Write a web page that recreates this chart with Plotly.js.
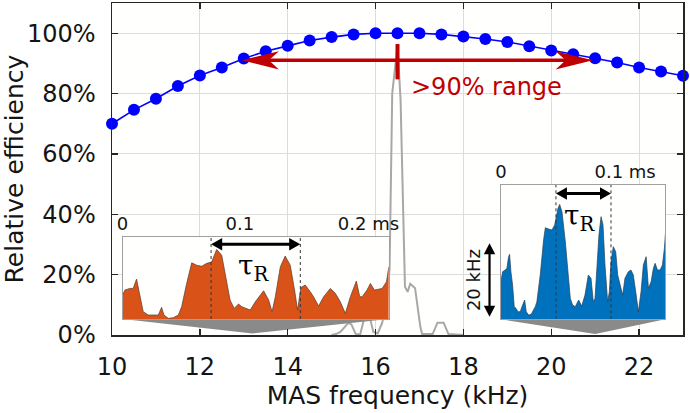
<!DOCTYPE html>
<html>
<head>
<meta charset="utf-8">
<script src="https://cdn.plot.ly/plotly-3.0.1.min.js"></script>
<style>
html,body{margin:0;padding:0;background:#ffffff;}
#chart{width:690px;height:413px;}
</style>
</head>
<body>
<div id="chart"></div>
<script>
// ---------------- DATA ----------------
// Main curve: relative efficiency vs MAS frequency
const masFreq = [10, 10.5, 11, 11.5, 12, 12.5, 13, 13.5, 14, 14.5, 15, 15.5, 16, 16.5, 17, 17.5, 18, 18.5, 19, 19.5, 20, 20.5, 21, 21.5, 22, 22.5, 23];
const efficiency = [70, 74.6, 78.3, 82.5, 86, 88.6, 91.6, 94.0, 95.8, 97.6, 98.7, 99.6, 100, 100, 100, 99.6, 98.9, 98.1, 97.1, 95.7, 94.3, 93.0, 91.7, 90.3, 88.6, 87.3, 85.9];
const xTickVals = [10, 12, 14, 16, 18, 20, 22];
const xTickText = ['10', '12', '14', '16', '18', '20', '22'];
const yTickVals = [0, 20, 40, 60, 80, 100];
const yTickText = ['0%', '20%', '40%', '60%', '80%', '100%'];

// Grey MAS-frequency distribution
const spectrumFreq = [15.0, 15.1, 15.2, 15.3, 15.38, 15.45, 15.55, 15.65, 15.75, 15.85, 15.95, 16.05, 16.15, 16.25, 16.32, 16.38, 16.5, 16.57, 16.67, 16.73, 16.79, 16.9, 17.02, 17.06, 17.3, 17.41, 17.55, 17.66, 18.0];
const spectrumLevel = [0, 0.3, 1.0, 2.5, 4.0, 3.5, 0.3, 0.2, 6, 7, 1, 0.5, 4, 10, 22, 80, 96, 78, 16, 14.3, 17, 15.5, 2.7, 0.3, 0.3, 4.1, 4.1, 0.3, 0];

// >90% range marker
const rangeFreq = [12.95, 20.95];
const rangeLevel = 91;
const optimumFreq = 16.5;
const optimumBar = [84.7, 96.4];
const rangeLabel = '>90% range';

// Inset 1: MAS frequency trace at 13.2 kHz (time in ms, deviation in kHz)
const slowMAS = 13.2;
const slowTime = [0, 0.00197, 0.00624, 0.00909, 0.01194, 0.01479, 0.01764, 0.0219, 0.0262, 0.0305, 0.0333, 0.0353, 0.0390, 0.0433, 0.0476, 0.0504, 0.0547, 0.0590, 0.0632, 0.0675, 0.0718, 0.0760, 0.0803, 0.0846, 0.0875, 0.0917, 0.0952, 0.0989, 0.1017, 0.1060, 0.1089, 0.1132, 0.1203, 0.1246, 0.1275, 0.1303, 0.1346, 0.1387, 0.1430, 0.1467, 0.1493, 0.1521, 0.1558, 0.1601, 0.1629, 0.1672, 0.1715, 0.1772, 0.1815, 0.1857, 0.1900, 0.1943, 0.1994, 0.2023, 0.2043, 0.2085, 0.2114, 0.2148, 0.2185, 0.2214, 0.2251, 0.2271];
const slowDev = [6.54, 7.9, 8.36, 8.36, 10.9, 6.08, 2.0, 1.09, 1.09, 1.09, 3.18, 1.09, 0.18, 0.36, 1.09, 3.36, 9.72, 15.35, 14.7, 14.4, 15.2, 15.6, 19.0, 17.4, 12.4, 5.2, 2.9, 4.1, 3.36, 2.9, 2.45, 4.7, 7.7, 5.2, 2.0, 6.08, 14.3, 17.2, 14.7, 7.9, 2.45, 8.6, 9.26, 7.45, 6.08, 3.54, 6.08, 8.36, 7.0, 4.7, 1.54, 6.08, 10.35, 6.08, 6.08, 7.9, 9.72, 7.9, 8.08, 8.36, 10.17, 14.3];
const slowTickVals = [0, 0.1, 0.2];
const slowTickText = ['0', '0.1', '\u00a0\u00a0\u00a0\u00a00.2 ms'];
const slowTau = [0.0755, 0.1516];

// Inset 2: MAS frequency trace at 21 kHz
const fastMAS = 21.0;
const fastTime = [0, 0.00141, 0.00372, 0.00517, 0.00661, 0.00748, 0.00863, 0.01007, 0.0115, 0.0130, 0.0147, 0.0167, 0.0182, 0.0205, 0.0219, 0.0239, 0.0262, 0.0283, 0.0297, 0.0311, 0.0340, 0.0369, 0.0384, 0.0413, 0.0441, 0.0465, 0.0476, 0.0493, 0.0508, 0.0528, 0.0557, 0.0580, 0.0600, 0.0620, 0.0643, 0.0672, 0.0699, 0.0727, 0.0756, 0.0779, 0.0799, 0.0814, 0.0828, 0.0848, 0.0866, 0.0883, 0.0900, 0.0923, 0.0938, 0.0952, 0.0972, 0.0993, 0.1010, 0.1030, 0.1053, 0.1073, 0.1102, 0.1125, 0.1145, 0.1166, 0.1189, 0.1212, 0.1232, 0.1256, 0.1276, 0.1299, 0.1319, 0.1334, 0.1354, 0.1377, 0.1397, 0.1414, 0.1423];
const fastDev = [10.25, 12.97, 13.43, 13.9, 17.06, 17.7, 12.97, 9.35, 3.44, 3.0, 2.07, 2.07, 3.44, 5.26, 2.07, 1.17, 1.35, 2.53, 3.44, 4.8, 12.07, 21.6, 24.96, 24.6, 24.33, 25.7, 27.5, 30.2, 31.3, 29.3, 21.1, 12.07, 5.7, 3.9, 3.44, 5.26, 3.6, 6.6, 12.07, 11.2, 4.8, 5.7, 13.9, 22.97, 27.96, 25.7, 14.8, 4.8, 7.5, 15.7, 19.8, 18.4, 12.07, 9.35, 6.6, 11.2, 12.97, 13.43, 12.07, 7.5, 2.07, 7.5, 14.8, 17.06, 8.44, 10.25, 13.9, 15.26, 13.43, 13.43, 14.8, 19.3, 23.4];
const fastTickVals = [0, 0.1];
const fastTickText = ['0', '\u00a0\u00a0\u00a00.1 ms'];
const fastTau = [0.0476, 0.0952];
const scaleBar = [0.7, 20.7]; // 20 kHz scale bar, in inset-2 units
const scaleLabel = '20 kHz';

// ---------------- LAYOUT HELPERS ----------------
const X_RANGE = [10, 23], Y_RANGE = [0, 110];
const toPX = k => (k - X_RANGE[0]) / (X_RANGE[1] - X_RANGE[0]);
const toPY = v => (v - Y_RANGE[0]) / (Y_RANGE[1] - Y_RANGE[0]);

const slowBox = {x0: 10.24, x1: 16.30, y0: 5.3, y1: 32.4, apexY: 0.5, tRange: [0, 0.227], fRange: [0, 22.34]};
const fastBox = {x0: 18.855, x1: 22.60, y0: 5.2, y1: 49.7, apexY: 0.3, tRange: [0, 0.1423], fRange: [0, 36.6]};
// inset-2 kHz -> main-axis %
const fastToMain = v => fastBox.y0 + v * (fastBox.y1 - fastBox.y0) / fastBox.fRange[1];
const scaleBarX = 18.595, scaleLabelX = 18.22;

const RED = '#c00000';
const ORANGE = '#D95319';
const BLUE = '#0072BD';
const AXC = '#262626';
const TXT = '#141414';

// horizontal arrow head: tip, direction (+1 right/-1 left), length (x units), half height (y units), notch fraction
function hHead(tipX, tipY, dir, L, H, notch) {
  const bx = tipX - dir * L, nx = tipX - dir * notch * L;
  return {x: [tipX, bx, nx, bx, tipX], y: [tipY, tipY + H, tipY, tipY - H, tipY]};
}
// vertical arrow head: dir (+1 up/-1 down), length (y units), half width (x units)
function vHead(tipX, tipY, dir, L, W) {
  const by = tipY - dir * L;
  return {x: [tipX, tipX + W, tipX - W, tipX], y: [tipY, by, by, tipY]};
}
function headTrace(h, color, xa, ya) {
  return {x: h.x, y: h.y, type: 'scatter', mode: 'lines', fill: 'toself', fillcolor: color, line: {width: 0, color: color}, xaxis: xa, yaxis: ya, hoverinfo: 'skip'};
}
function lineTrace(x, y, color, width, xa, ya) {
  return {x: x, y: y, type: 'scatter', mode: 'lines', line: {color: color, width: width}, xaxis: xa, yaxis: ya, hoverinfo: 'skip'};
}

// red >90% arrow
const headL = 0.85, headH = 3.0;
const rHeadL = hHead(rangeFreq[0], rangeLevel, -1, headL, headH, 0.73);
const rHeadR = hHead(rangeFreq[1], rangeLevel, 1, headL, headH, 0.73);

// tau arrows
const tauY1 = 20.4, tauY2 = 34.3;
const tHL = 0.0095, tHH = 1.7;
const s1 = hHead(slowTau[0], tauY1, -1, tHL, tHH, 1.0), s2 = hHead(slowTau[1], tauY1, 1, tHL, tHH, 1.0);
const f1 = hHead(fastTau[0], tauY2, -1, tHL, tHH, 1.0), f2 = hHead(fastTau[1], tauY2, 1, tHL, tHH, 1.0);

// 20 kHz scale bar (drawn in main-axis units beside inset 2)
const sbBot = fastToMain(scaleBar[0]), sbTop = fastToMain(scaleBar[1]);
const vHL = 3.6, vHW = 0.13;
const sbHeadTop = vHead(scaleBarX, sbTop, 1, vHL, vHW), sbHeadBot = vHead(scaleBarX, sbBot, -1, vHL, vHW);

const traces = [
  lineTrace(spectrumFreq, spectrumLevel, '#a8a8a8', 2, 'x', 'y'),
  {x: [slowBox.x0, slowBox.x1, slowMAS, slowBox.x0], y: [slowBox.y0, slowBox.y0, slowBox.apexY, slowBox.y0], type: 'scatter', mode: 'lines', fill: 'toself', fillcolor: '#8a8a8a', line: {width: 0, color: '#8a8a8a'}, xaxis: 'x', yaxis: 'y', hoverinfo: 'skip'},
  {x: [fastBox.x0, fastBox.x1, fastMAS, fastBox.x0], y: [fastBox.y0, fastBox.y0, fastBox.apexY, fastBox.y0], type: 'scatter', mode: 'lines', fill: 'toself', fillcolor: '#8a8a8a', line: {width: 0, color: '#8a8a8a'}, xaxis: 'x', yaxis: 'y', hoverinfo: 'skip'},
  {x: masFreq, y: efficiency, type: 'scatter', mode: 'lines+markers', line: {color: '#0000ff', width: 1.6}, marker: {color: '#0000ff', size: 12}, cliponaxis: false, xaxis: 'x', yaxis: 'y'},
  lineTrace([optimumFreq, optimumFreq], optimumBar, RED, 4, 'x', 'y'),
  lineTrace([rangeFreq[0] + 0.5 * headL, rangeFreq[1] - 0.5 * headL], [rangeLevel, rangeLevel], RED, 3.5, 'x', 'y'),
  headTrace(rHeadL, RED, 'x', 'y'),
  headTrace(rHeadR, RED, 'x', 'y'),
  lineTrace([scaleBarX, scaleBarX], [sbBot + 0.5 * vHL, sbTop - 0.5 * vHL], '#000', 2.2, 'x', 'y'),
  headTrace(sbHeadTop, '#000', 'x', 'y'),
  headTrace(sbHeadBot, '#000', 'x', 'y'),
  // inset 1
  {x: slowTime, y: slowDev, type: 'scatter', mode: 'lines', fill: 'tozeroy', fillcolor: ORANGE, line: {color: '#5b3a2c', width: 0.7}, xaxis: 'x2', yaxis: 'y2', hoverinfo: 'skip'},
  {x: [slowTau[0], slowTau[0], null, slowTau[1], slowTau[1]], y: [0, slowBox.fRange[1], null, 0, slowBox.fRange[1]], type: 'scatter', mode: 'lines', line: {color: '#333333', width: 1, dash: 'dot'}, xaxis: 'x2', yaxis: 'y2', hoverinfo: 'skip'},
  lineTrace([slowTau[0] + 0.5 * tHL, slowTau[1] - 0.5 * tHL], [tauY1, tauY1], '#000', 3, 'x2', 'y2'),
  headTrace(s1, '#000', 'x2', 'y2'),
  headTrace(s2, '#000', 'x2', 'y2'),
  // inset 2
  {x: fastTime, y: fastDev, type: 'scatter', mode: 'lines', fill: 'tozeroy', fillcolor: BLUE, line: {color: '#2a3f55', width: 0.7}, xaxis: 'x3', yaxis: 'y3', hoverinfo: 'skip'},
  {x: [fastTau[0], fastTau[0], null, fastTau[1], fastTau[1]], y: [0, fastBox.fRange[1], null, 0, fastBox.fRange[1]], type: 'scatter', mode: 'lines', line: {color: '#333333', width: 1, dash: 'dot'}, xaxis: 'x3', yaxis: 'y3', hoverinfo: 'skip'},
  lineTrace([fastTau[0] + 0.5 * tHL, fastTau[1] - 0.5 * tHL], [tauY2, tauY2], '#000', 3, 'x3', 'y3'),
  headTrace(f1, '#000', 'x3', 'y3'),
  headTrace(f2, '#000', 'x3', 'y3')
];

function mainAxis(extra) {
  return Object.assign({
    showline: true, linecolor: AXC, linewidth: 1.5, mirror: 'allticks',
    ticks: 'inside', ticklen: 6, tickwidth: 1.3, tickcolor: AXC,
    showgrid: true, gridcolor: '#dcdcdc', gridwidth: 1, zeroline: false,
    tickmode: 'array',
    tickfont: {family: 'DejaVu Sans', size: 24, color: TXT}
  }, extra);
}

function insetX(box, vals, text, anchor) {
  return {domain: [toPX(box.x0), toPX(box.x1)], anchor: anchor, range: box.tRange, side: 'top',
    tickmode: 'array', tickvals: vals, ticktext: text, ticks: '', showline: true, mirror: true, linecolor: '#a0a0a0', linewidth: 1,
    showgrid: false, zeroline: false, tickfont: {family: 'DejaVu Sans', size: 18, color: TXT}, ticklabelstandoff: -1, fixedrange: true};
}
function insetY(box, anchor) {
  return {domain: [toPY(box.y0), toPY(box.y1)], anchor: anchor, range: box.fRange, showticklabels: false, ticks: '',
    showline: true, mirror: true, linecolor: '#a0a0a0', linewidth: 1, showgrid: false, zeroline: false, fixedrange: true};
}

const layout = {
  width: 690, height: 413,
  margin: {l: 112, r: 7, t: 3, b: 78},
  paper_bgcolor: '#ffffff', plot_bgcolor: '#fffffe',
  showlegend: false,
  font: {family: 'DejaVu Sans', color: TXT, size: 24},
  xaxis: mainAxis({domain: [0, 1], range: X_RANGE, tickvals: xTickVals, ticktext: xTickText, ticklabelstandoff: 10,
    title: {text: 'MAS frequency (kHz)', font: {family: 'DejaVu Sans', size: 25, color: TXT}, standoff: 2}}),
  yaxis: mainAxis({domain: [0, 1], range: Y_RANGE, tickvals: yTickVals, ticktext: yTickText, ticklabelstandoff: 10,
    title: {text: 'Relative efficiency', font: {family: 'DejaVu Sans', size: 25, color: TXT}, standoff: 3}}),
  xaxis2: insetX(slowBox, slowTickVals, slowTickText, 'y2'),
  yaxis2: insetY(slowBox, 'x2'),
  xaxis3: insetX(fastBox, fastTickVals, fastTickText, 'y3'),
  yaxis3: insetY(fastBox, 'x3'),
  annotations: [
    {xref: 'x', yref: 'y', x: 18.53, y: 82.3, text: rangeLabel, showarrow: false, font: {family: 'DejaVu Sans', size: 24, color: RED}, xanchor: 'center', yanchor: 'middle'},
    {xref: 'x2', yref: 'y2', x: 0.112, y: 14.2, text: 'τ<sub>R</sub>', showarrow: false, font: {family: 'DejaVu Serif', size: 28, color: '#000'}},
    {xref: 'x3', yref: 'y3', x: 0.068, y: 27.8, text: 'τ<sub>R</sub>', showarrow: false, font: {family: 'DejaVu Serif', size: 28, color: '#000'}},
    {xref: 'x', yref: 'y', x: scaleLabelX, y: (sbBot + sbTop) / 2, text: scaleLabel, textangle: -90, showarrow: false, font: {family: 'DejaVu Sans', size: 18, color: TXT}}
  ]
};

Plotly.newPlot('chart', traces, layout, {staticPlot: true, displayModeBar: false});
</script>
</body>
</html>
